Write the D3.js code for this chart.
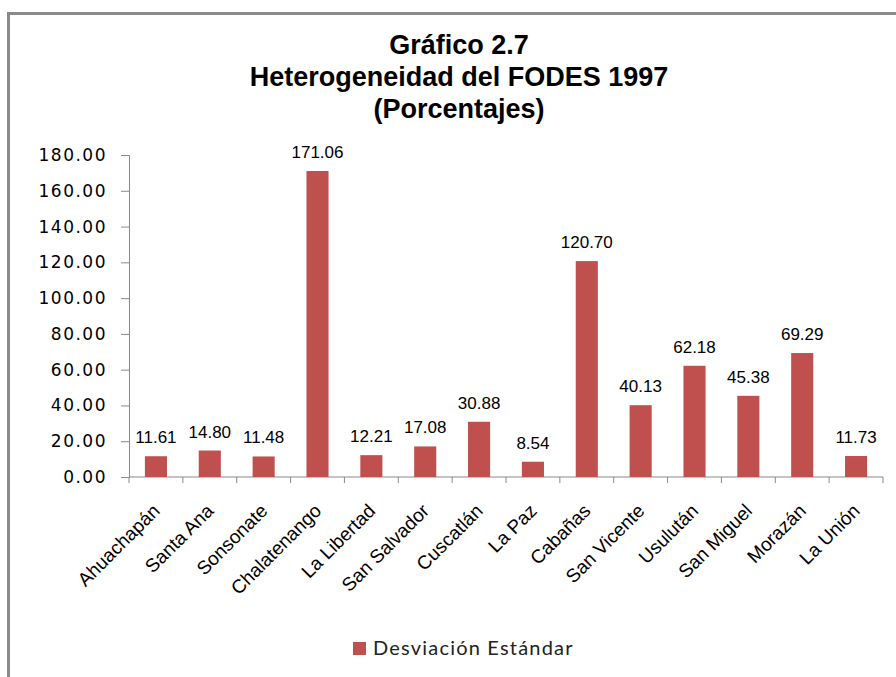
<!DOCTYPE html>
<html>
<head>
<meta charset="utf-8">
<script src="https://cdn.jsdelivr.net/npm/d3@7"></script>
<style>
  body { margin: 0; background: #fff; }
  svg { display: block; }
</style>
</head>
<body>
<div id="chart"></div>
<script>
// data
var departamentos = ["Ahuachapán", "Santa Ana", "Sonsonate", "Chalatenango", "La Libertad",
  "San Salvador", "Cuscatlán", "La Paz", "Cabañas", "San Vicente", "Usulután",
  "San Miguel", "Morazán", "La Unión"];
var desviacion = [11.61, 14.80, 11.48, 171.06, 12.21, 17.08, 30.88, 8.54, 120.70,
  40.13, 62.18, 45.38, 69.29, 11.73];
var yTicks = [0, 20, 40, 60, 80, 100, 120, 140, 160, 180];
var titleLines = ["Gráfico 2.7", "Heterogeneidad del FODES 1997", "(Porcentajes)"];
var seriesName = "Desviación Estándar";

var svgWidth = 896, svgHeight = 677;
var margin = { top: 155, right: 13, bottom: 200, left: 129 };
var width = svgWidth - margin.left - margin.right;
var height = svgHeight - margin.top - margin.bottom;

var svg = d3.select("#chart").append("svg").attr("width", svgWidth).attr("height", svgHeight);

// outer frame (only top/left visible in the crop)
svg.append("path").attr("d", "M8.5,677 L8.5,13.5 L900,13.5")
   .attr("fill", "none").attr("stroke", "#8a8a8a").attr("stroke-width", 3);

// title
svg.append("g").selectAll("text").data(titleLines).enter().append("text")
   .attr("x", 459).attr("y", (d, i) => 54 + i * 32)
   .attr("text-anchor", "middle")
   .style("font-family", "'Liberation Sans', Arial, sans-serif")
   .style("font-weight", "bold").style("font-size", "27px")
   .text(d => d);

var chartGroup = svg.append("g").attr("transform", `translate(${margin.left}, ${margin.top})`);

var xScale = d3.scaleBand().domain(departamentos).range([0, width]).paddingInner(0.59).paddingOuter(0.295);
var yScale = d3.scaleLinear().domain([0, 180]).range([height, 0]);

// y axis
var leftAxis = d3.axisLeft(yScale).tickValues(yTicks).tickSize(8).tickPadding(14).tickFormat(d3.format(".2f"));
var yAxis = chartGroup.append("g").call(leftAxis);
yAxis.select(".domain").attr("stroke", "#8a8a8a");
yAxis.selectAll(".tick line").attr("stroke", "#8a8a8a");
yAxis.selectAll(".tick text")
     .style("font-family", "'DejaVu Sans', Verdana, sans-serif").style("font-size", "17px")
     .style("letter-spacing", "1.5px").attr("fill", "#000");

// x axis: ticks at band boundaries
var bounds = d3.range(departamentos.length + 1).map(i => i * width / departamentos.length);
var xAxis = chartGroup.append("g").attr("transform", `translate(0, ${height})`);
xAxis.append("line").attr("x1", 0).attr("x2", width).attr("stroke", "#8a8a8a");
xAxis.selectAll(".xt").data(bounds).enter().append("line").classed("xt", true)
     .attr("x1", d => d).attr("x2", d => d).attr("y1", 0).attr("y2", 6).attr("stroke", "#8a8a8a");

xAxis.selectAll(".xlabel").data(departamentos).enter().append("text").classed("xlabel", true)
     .attr("transform", d => `translate(${xScale(d) + xScale.bandwidth() / 2 + 5}, 35) rotate(-45)`)
     .attr("text-anchor", "end")
     .style("font-family", "'Liberation Sans', Arial, sans-serif").style("font-size", "19px")
     .text(d => d);

// bars
chartGroup.selectAll("rect").data(desviacion).enter().append("rect")
   .attr("x", (d, i) => xScale(departamentos[i]))
   .attr("y", d => yScale(d))
   .attr("width", xScale.bandwidth())
   .attr("height", d => height - yScale(d))
   .attr("fill", "#C0504D");

// value labels
chartGroup.selectAll(".vlabel").data(desviacion).enter().append("text").classed("vlabel", true)
   .attr("x", (d, i) => xScale(departamentos[i]) + xScale.bandwidth() / 2)
   .attr("y", d => yScale(d) - 13)
   .attr("text-anchor", "middle")
   .style("font-family", "'Liberation Sans', Arial, sans-serif").style("font-size", "17px")
   .text(d => d3.format(".2f")(d));

// legend
var legend = svg.append("g").attr("transform", "translate(353, 642)");
legend.append("rect").attr("width", 13).attr("height", 13).attr("fill", "#C0504D");
legend.append("text").attr("x", 20).attr("y", 13)
      .style("font-family", "Lato, 'Open Sans', sans-serif").style("font-size", "20px")
      .style("letter-spacing", "1.2px")
      .attr("fill", "#222").text(seriesName);
</script>
</body>
</html>
